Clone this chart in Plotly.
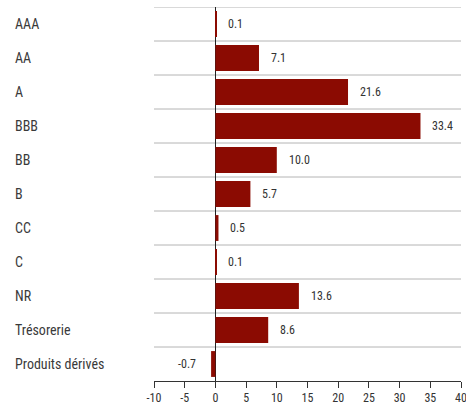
import plotly.graph_objects as go

categories = ["AAA", "AA", "A", "BBB", "BB", "B", "CC", "C", "NR", "Trésorerie", "Produits dérivés"]
values = [0.1, 7.1, 21.6, 33.4, 10.0, 5.7, 0.5, 0.1, 13.6, 8.6, -0.7]
x_ticks = [-10, -5, 0, 5, 10, 15, 20, 25, 30, 35, 40]

FONT = "Roboto Condensed, Liberation Sans Narrow, Roboto, sans-serif"
BAR = "#8b0b02"
TXT = "#333333"

W, H = 466, 403
ML, MR, MT, MB = 154, 5, 7, 22

fig = go.Figure()
fig.add_trace(go.Bar(
    x=values, y=categories, orientation="h",
    marker=dict(color=BAR, line=dict(width=0)),
    hoverinfo="x+y",
))

annotations = []
for c, v in zip(categories, values):
    annotations.append(dict(
        x=v, y=c, xref="x", yref="y",
        text=f"{v:.1f}", showarrow=False,
        xanchor="left" if v >= 0 else "right",
        xshift=10 if v >= 0 else -13,
        font=dict(family=FONT, size=12, color=TXT),
    ))
    annotations.append(dict(
        x=-(ML - 13) / (W - ML - MR), y=c, xref="paper", yref="y",
        text=c, showarrow=False, xanchor="left",
        font=dict(family=FONT, size=14, color="#3a3a3a"),
    ))

shapes = []
for i in range(len(categories)):
    shapes.append(dict(
        type="line", xref="paper", yref="y", x0=0, x1=1,
        y0=i - 0.5, y1=i - 0.5, line=dict(color="#b4b4b4", width=1),
        layer="below",
    ))

fig.update_layout(
    width=W, height=H,
    margin=dict(l=ML, r=MR, t=MT, b=MB, pad=0, autoexpand=False),
    paper_bgcolor="white", plot_bgcolor="white",
    showlegend=False, bargap=0.24,
    annotations=annotations, shapes=shapes,
    font=dict(family=FONT, size=12, color=TXT),
)
fig.update_xaxes(
    range=[-10, 40], tickvals=x_ticks, ticktext=[str(t) for t in x_ticks],
    showgrid=False, zeroline=True, zerolinecolor="#222222", zerolinewidth=1,
    showline=True, linecolor="#333333", linewidth=1,
    ticks="outside", ticklen=6, tickcolor="#333333", tickwidth=1,
    tickfont=dict(family=FONT, size=12, color=TXT),
    automargin=False, ticklabeloverflow="allow",
)
fig.update_yaxes(
    categoryorder="array", categoryarray=categories,
    range=[len(categories) - 0.5, -0.5],
    showticklabels=False, showgrid=False, zeroline=False, ticks="",
    automargin=False,
)

fig.write_html(
    "out.html",
    config={"displayModeBar": False},
    post_script="document.body.style.margin='0';document.body.style.overflow='hidden';",
)
